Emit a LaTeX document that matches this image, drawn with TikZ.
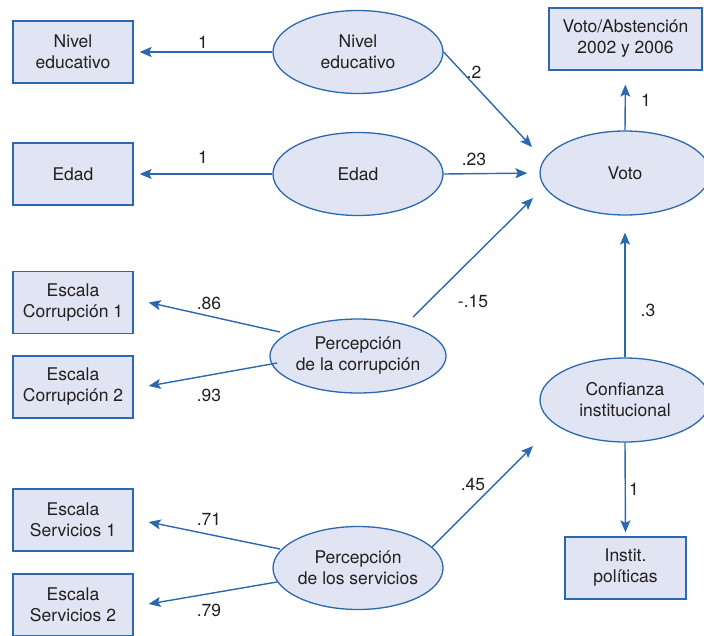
\documentclass[tikz,border=0pt]{standalone}
\usepackage{fontspec}
\setmainfont{TeX Gyre Heros}
\usetikzlibrary{shapes.geometric,arrows.meta}
\definecolor{fillc}{HTML}{E1E5F3}
\definecolor{linec}{HTML}{2A68B0}
\definecolor{txt}{HTML}{231F20}
\begin{document}
\begin{tikzpicture}[x=1pt,y=-1pt,
  every node/.style={text=txt,font=\fontsize{17.5}{21}\selectfont},
  obs/.style={draw=linec,fill=fillc,line width=1.3pt,minimum width=120pt,minimum height=62pt,inner sep=0pt,align=center},
  lat/.style={ellipse,draw=linec,fill=fillc,line width=1.3pt,minimum width=170pt,minimum height=83pt,inner sep=0pt,align=center},
  arr/.style={draw=linec,line width=1.4pt,-{Stealth[length=12pt,width=10pt,inset=2.5pt]}},
  lab/.style={inner sep=0pt}]
\useasboundingbox (0,0) rectangle (704,635);
% observed boxes
\node[obs] (nivB) at (73,52) {Nivel\\educativo};
\node[obs] (edB) at (73,174) {Edad};
\node[obs] (c1B) at (73,302.5) {Escala\\Corrupción 1};
\node[obs] (c2B) at (73,387) {Escala\\Corrupción 2};
\node[obs] (s1B) at (73,520) {Escala\\Servicios 1};
\node[obs] (s2B) at (73,605) {Escala\\Servicios 2};
\node[obs,minimum width=153pt] (votoB) at (625.5,39) {Voto/Abstención\\2002 y 2006};
\node[obs,minimum width=121pt] (instB) at (625.5,568) {Instit.\\políticas};
% latent ellipses
\node[lat] (nivE) at (358,52) {Nivel\\educativo};
\node[lat] (edE) at (358,174) {Edad};
\node[lat,minimum height=74pt] (corrE) at (358,356) {Percepción\\de la corrupción};
\node[lat] (servE) at (358,568) {Percepción\\de los servicios};
\node[lat,minimum height=84pt] (voto) at (625,173) {Voto};
\node[lat,minimum height=84pt] (conf) at (625,400) {Confianza\\institucional};
% connectors
\draw[arr,shorten >=6pt] (nivE.west) -- (nivB.east);
\draw[arr,shorten >=6pt] (edE.west) -- (edB.east);
\draw[arr] (nivE.east) -- ([shift={(-93,-26)}]voto.center);
\draw[arr,shorten >=12pt] (edE.east) -- (voto.west);
\draw[arr] ([shift={(55,-39)}]corrE.center) -- ([shift={(-92,25)}]voto.center);
\draw[arr,shorten >=14pt] (voto.north) -- (votoB.south);
\draw[arr,shorten >=17pt] (conf.north) -- (voto.south);
\draw[arr,shorten >=4pt] (conf.south) -- (instB.north);
\draw[arr] ([shift={(74,-21)}]servE.center) -- ([shift={(-92,46)}]conf.center);
\draw[arr] ([shift={(-78,-24)}]corrE.center) -- ([shift={(15,0)}]c1B.east);
\draw[arr] ([shift={(-81,7)}]corrE.center) -- ([shift={(15,-1)}]c2B.east);
\draw[arr] ([shift={(-78,-19)}]servE.center) -- ([shift={(15,2)}]s1B.east);
\draw[arr] ([shift={(-81,14)}]servE.center) -- ([shift={(15,-1)}]s2B.east);
% labels
\node[lab] (l1) at (203,42) {1};
\node[lab] (l2) at (203,157) {1};
\node[lab] (l3) at (474,72) {.2};
\node[lab] (l4) at (474,159) {.23};
\node[lab] (l5) at (473,301) {-.15};
\node[lab] (l6) at (646,100) {1};
\node[lab] (l7) at (648,310) {.3};
\node[lab] (l8) at (634,489) {1};
\node[lab] (l9) at (473,484) {.45};
\node[lab] (l10) at (209,303) {.86};
\node[lab] (l11) at (209,395) {.93};
\node[lab] (l12) at (209,519) {.71};
\node[lab] (l13) at (209,610) {.79};
\end{tikzpicture}
\end{document}
